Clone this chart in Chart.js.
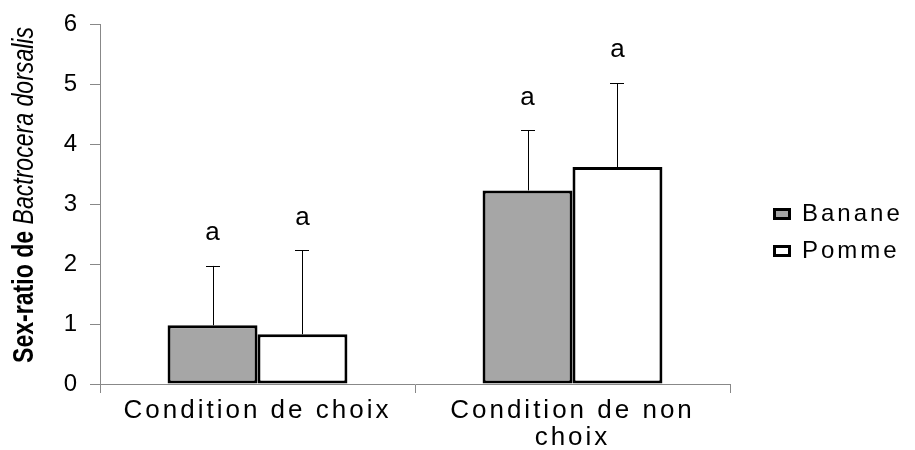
<!DOCTYPE html>
<html>
<head>
<meta charset="utf-8">
<script src="https://cdn.jsdelivr.net/npm/chart.js@4/dist/chart.umd.min.js"></script>
<style>
  html, body { margin: 0; padding: 0; background: #fff; }
  #wrap { width: 915px; height: 450px; }
</style>
</head>
<body>
<div id="wrap"><canvas id="sex-ratio-chart"></canvas></div>
<script>
// data
var categories = ['Condition de choix', ['Condition de non', 'choix']];
var seriesNames = ['Banane', 'Pomme'];
var bananeValues = [0.98, 3.23];
var pommeValues = [0.83, 3.62];
var bananeErrors = [0.99, 1.00];
var pommeErrors = [1.40, 1.40];
var bananeLetters = ['a', 'a'];
var pommeLetters = ['a', 'a'];
var yMin = 0, yMax = 6, yStep = 1;

var FONT = "'Liberation Sans', Arial, sans-serif";
var SPACING = '3px';

// wide letter spacing like the original export
var spacingPlugin = {
    id: 'spacing',
    beforeInit: function (chart) { chart.ctx.letterSpacing = SPACING; },
    beforeUpdate: function (chart) { chart.ctx.letterSpacing = SPACING; },
    beforeDraw: function (chart) { chart.ctx.letterSpacing = SPACING; }
};

// error bars + significance letters
var errorPlugin = {
    id: 'errorBars',
    afterDatasetsDraw: function (chart) {
        var ctx = chart.ctx;
        var y = chart.scales.y;
        chart.data.datasets.forEach(function (ds, di) {
            var meta = chart.getDatasetMeta(di);
            meta.data.forEach(function (bar, i) {
                var top = y.getPixelForValue(ds.data[i] + ds.errors[i]);
                ctx.save();
                ctx.strokeStyle = '#000';
                ctx.lineWidth = 1;
                ctx.beginPath();
                ctx.moveTo(Math.round(bar.x) + 0.5, bar.y);
                ctx.lineTo(Math.round(bar.x) + 0.5, top);
                ctx.moveTo(Math.round(bar.x) - 7, Math.round(top) + 0.5);
                ctx.lineTo(Math.round(bar.x) + 7, Math.round(top) + 0.5);
                ctx.stroke();
                ctx.font = '26px ' + FONT;
                ctx.letterSpacing = '0px';
                ctx.fillStyle = '#000';
                ctx.textAlign = 'center';
                ctx.textBaseline = 'middle';
                ctx.fillText(ds.letters[i], bar.x, top - 33);
                ctx.restore();
            });
        });
    }
};

// y title with bold + italic parts, and legend on the right
var extrasPlugin = {
    id: 'extras',
    afterDraw: function (chart) {
        var ctx = chart.ctx;
        var area = chart.chartArea;
        ctx.save();
        ctx.letterSpacing = '0px';
        ctx.fillStyle = '#000';
        ctx.textBaseline = 'middle';
        ctx.textAlign = 'left';
        var part1 = 'Sex-ratio de ';
        var part2 = 'Bactrocera dorsalis';
        var f1 = 'bold 30px ' + FONT;
        var f2 = 'italic 30px ' + FONT;
        ctx.font = f1;
        var w1 = ctx.measureText(part1).width;
        ctx.font = f2;
        var w2 = ctx.measureText(part2).width;
        var total = w1 + w2;
        var target = 336;
        ctx.translate(25, 195);
        ctx.rotate(-Math.PI / 2);
        ctx.scale(target / total, 1);
        ctx.font = f1;
        ctx.fillText(part1, -total / 2, 0);
        ctx.font = f2;
        ctx.fillText(part2, -total / 2 + w1, 0);
        ctx.restore();

        // legend
        ctx.save();
        var lx = area.right + 43;
        var ly = [214, 251];
        chart.data.datasets.forEach(function (ds, i) {
            ctx.fillStyle = ds.backgroundColor;
            ctx.strokeStyle = '#000';
            ctx.lineWidth = 3;
            ctx.fillRect(lx, ly[i] - 6, 18, 12);
            ctx.strokeRect(lx + 1.5, ly[i] - 4.5, 15, 9);
            ctx.fillStyle = '#000';
            ctx.font = '24px ' + FONT;
            ctx.letterSpacing = '3px';
            ctx.textBaseline = 'middle';
            ctx.textAlign = 'left';
            ctx.fillText(ds.label, lx + 29, ly[i]);
        });
        ctx.restore();
    }
};

var canvas = document.getElementById('sex-ratio-chart');
var ctx = canvas.getContext('2d');

var chart = new Chart(ctx, {
    type: 'bar',
    data: {
        labels: categories,
        datasets: [{
            label: seriesNames[0],
            data: bananeValues,
            errors: bananeErrors,
            letters: bananeLetters,
            backgroundColor: '#a6a6a6',
            borderColor: '#000',
            borderWidth: 3,
            borderSkipped: false
        }, {
            label: seriesNames[1],
            data: pommeValues,
            errors: pommeErrors,
            letters: pommeLetters,
            backgroundColor: '#ffffff',
            borderColor: '#000',
            borderWidth: 3,
            borderSkipped: false
        }]
    },
    options: {
        responsive: true,
        maintainAspectRatio: false,
        animation: false,
        events: [],
        layout: { padding: { top: 24, right: 185, bottom: 0, left: 0 } },
        categoryPercentage: 0.571,
        barPercentage: 1.0,
        plugins: {
            legend: { display: false },
            tooltip: { enabled: false }
        },
        scales: {
            x: {
                grid: { display: true, drawOnChartArea: false, offset: true, tickLength: 9, color: '#888' },
                border: { color: '#888', width: 1 },
                ticks: {
                    color: '#000',
                    font: { family: FONT, size: 26, lineHeight: 1.04 },
                    padding: 4,
                    maxRotation: 0,
                    minRotation: 0,
                    autoSkip: false
                },
                afterFit: function (s) { s.height = 66; }
            },
            y: {
                min: yMin,
                max: yMax,
                grid: { display: true, drawOnChartArea: false, tickLength: 10, color: '#888' },
                border: { color: '#888', width: 1 },
                ticks: {
                    stepSize: yStep,
                    color: '#000',
                    font: { family: FONT, size: 24 },
                    padding: 10
                },
                afterFit: function (s) { s.width = 100; }
            }
        }
    },
    plugins: [spacingPlugin, errorPlugin, extrasPlugin]
});
</script>
</body>
</html>
